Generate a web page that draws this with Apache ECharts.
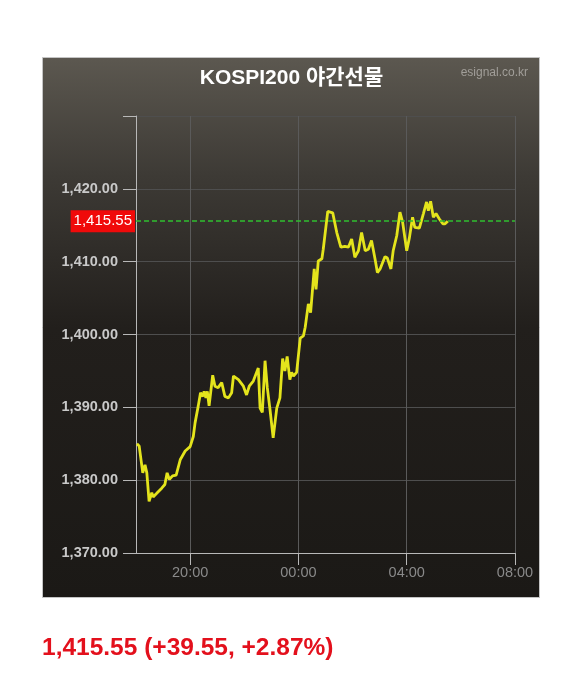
<!DOCTYPE html>
<html>
<head>
<meta charset="utf-8">
<script src="https://cdn.jsdelivr.net/npm/echarts@6/dist/echarts.min.js"></script>
<style>
html,body{margin:0;padding:0;background:#fff;}
#c{width:583px;height:680px;}
</style>
</head>
<body>
<div id="c"></div>
<script>
const titleText = 'KOSPI200 야간선물';
const sourceText = 'esignal.co.kr';
const summaryText = '1,415.55 (+39.55, +2.87%)';
const lastValue = 1415.55;
const xTickLabels = ['20:00', '00:00', '04:00', '08:00'];
const yMin = 1370, yMax = 1430, yStep = 10;

const times = ['18:02','18:07','18:15','18:20','18:24','18:29','18:35','18:38','18:46','18:57',
  '19:04','19:09','19:14','19:21','19:29','19:38','19:49','20:00','20:07','20:11',
  '20:18','20:23','20:28','20:31','20:35','20:38','20:42','20:50','20:55','21:02',
  '21:10','21:17','21:25','21:32','21:36','21:47','21:58','22:05','22:11','22:20',
  '22:31','22:35','22:40','22:46','22:51','22:57','23:04','23:12','23:19','23:25',
  '23:30','23:35','23:41','23:45','23:49','23:56','00:04','00:11','00:15','00:22',
  '00:27','00:35','00:39','00:44','00:52','00:55','01:05','01:16','01:25','01:34',
  '01:43','01:51','01:58','02:05','02:13','02:20','02:28','02:35','02:42','02:50',
  '02:55','03:01','03:12','03:17','03:25','03:30','03:38','03:45','03:51','04:00',
  '04:06','04:13','04:18','04:28','04:37','04:44','04:48','04:53','04:59','05:05',
  '05:12','05:20','05:25','05:31'];
const values = [1385.0,1384.7,1381.0,1382.1,1381.0,1377.1,1378.3,1377.7,1378.2,1378.9,
  1379.4,1381.0,1380.1,1380.6,1380.7,1382.8,1384.0,1384.6,1386.0,1387.9,
  1390.2,1392.0,1391.5,1392.2,1391.3,1392.2,1390.2,1394.4,1392.9,1392.7,
  1393.4,1391.5,1391.3,1392.0,1394.3,1393.8,1392.9,1391.7,1392.9,1393.6,
  1395.4,1389.9,1389.3,1396.4,1392.7,1389.7,1385.8,1389.9,1391.3,1396.7,
  1395.0,1397.0,1393.8,1394.8,1394.3,1394.8,1399.5,1399.8,1401.0,1404.2,
  1403.0,1409.0,1406.2,1410.1,1410.4,1411.7,1416.9,1416.7,1414.0,1412.0,
  1412.1,1412.0,1413.1,1410.6,1411.5,1414.0,1411.5,1411.7,1412.9,1410.3,
  1408.5,1409.0,1410.7,1410.5,1409.0,1411.5,1413.6,1416.8,1415.4,1411.5,
  1413.3,1416.1,1414.7,1414.6,1416.6,1418.2,1417.0,1418.3,1416.1,1416.6,
  1415.9,1415.2,1415.2,1415.55];

function toTs(hhmm) {
  const [h, m] = hhmm.split(':').map(Number);
  const day = h >= 12 ? 1 : 2;
  return Date.UTC(2024, 0, day, h, m);
}
const xMin = toTs('18:00');
const xMax = toTs('08:00');
const seriesData = times.map((t, i) => [toTs(t), values[i]]);

function fmtNum(v) {
  const s = v.toFixed(2);
  const [a, b] = s.split('.');
  return a.replace(/\B(?=(\d{3})+(?!\d))/g, ',') + '.' + b;
}

const FONT = "'Liberation Sans', Arial, 'Noto Sans CJK KR', sans-serif";
const chart = echarts.init(document.getElementById('c'));
chart.setOption({
  useUTC: true,
  animation: false,
  textStyle: { fontFamily: FONT },
  graphic: [
    {
      type: 'rect', z: -10, silent: true,
      shape: { x: 42.5, y: 57.5, width: 497, height: 540 },
      style: {
        stroke: '#c4c4c4', lineWidth: 1,
        fill: new echarts.graphic.LinearGradient(0, 0, 0, 1, [
          { offset: 0, color: '#5c5850' },
          { offset: 0.22, color: '#3d3a35' },
          { offset: 0.5, color: '#221f1c' },
          { offset: 1, color: '#1b1916' }
        ])
      }
    },
    {
      type: 'text', x: 528, y: 73, silent: true,
      style: { text: sourceText, fill: '#a19e99', font: "12px " + FONT, textAlign: 'right', textVerticalAlign: 'middle' }
    },
    {
      type: 'text', x: 42, y: 648, silent: true,
      style: { text: summaryText, fill: '#e3101c', font: "bold 24.5px " + FONT, textAlign: 'left', textVerticalAlign: 'middle' }
    }
  ],
  title: {
    text: titleText, left: 'center', top: 68, padding: 0,
    textStyle: { color: '#ffffff', fontSize: 21, fontWeight: 'bold', fontFamily: FONT }
  },
  grid: { left: 136, right: 68, top: 116, bottom: 127, containLabel: false },
  xAxis: {
    type: 'time', min: xMin, max: xMax,
    minInterval: 4 * 3600 * 1000, maxInterval: 4 * 3600 * 1000,
    axisLine: { show: true, lineStyle: { color: '#b8b8b8', width: 1 } },
    axisTick: { show: true, length: 12, lineStyle: { color: '#b8b8b8' } },
    axisLabel: {
      color: '#8a8a8a', fontSize: 14.5, margin: 13, showMinLabel: false,
      formatter: function (val) {
        const d = new Date(val);
        const s = String(d.getUTCHours()).padStart(2, '0') + ':' + String(d.getUTCMinutes()).padStart(2, '0');
        return xTickLabels.indexOf(s) >= 0 ? s : '';
      }
    },
    splitLine: { show: true, lineStyle: { color: '#5a5a5a', width: 1 } }
  },
  yAxis: {
    type: 'value', min: yMin, max: yMax, interval: yStep,
    axisLine: { show: true, lineStyle: { color: '#b8b8b8', width: 1 } },
    axisTick: { show: true, length: 13, lineStyle: { color: '#b8b8b8' } },
    axisLabel: {
      color: '#c9c9c9', fontSize: 14.5, fontWeight: 'bold', margin: 18,
      formatter: v => (v >= yMax ? '' : fmtNum(v))
    },
    splitLine: { show: true, lineStyle: { color: '#4e4e4e', width: 1 } }
  },
  series: [{
    type: 'line', data: seriesData, showSymbol: false, symbol: 'none',
    lineStyle: { color: '#e4e41c', width: 2.8 },
    markLine: {
      silent: true, symbol: 'none',
      lineStyle: { color: '#2fbf2f', type: [5, 3], width: 1.5 },
      label: {
        position: 'start', distance: 1,
        formatter: () => fmtNum(lastValue),
        color: '#ffffff', backgroundColor: '#f00a0a', fontSize: 15,
        padding: [4, 3, 3, 3]
      },
      data: [{ yAxis: lastValue }]
    }
  }]
});
</script>
</body>
</html>
